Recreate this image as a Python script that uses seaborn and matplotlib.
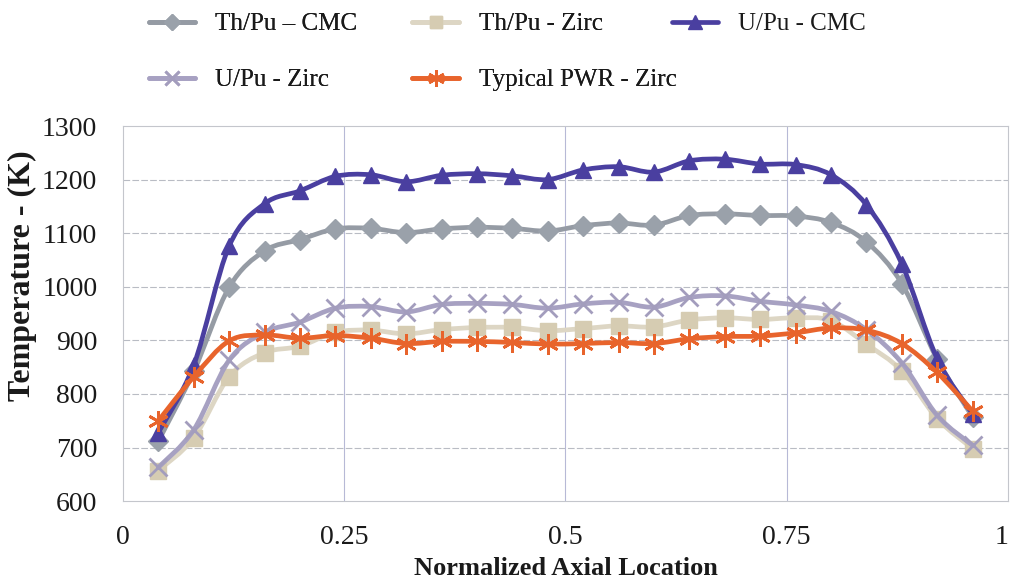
import numpy as np
import pandas as pd
import matplotlib
matplotlib.use("Agg")
import matplotlib.pyplot as plt
from matplotlib.path import Path
from matplotlib.patches import PathPatch
from matplotlib.lines import Line2D
from matplotlib.transforms import ScaledTranslation
import seaborn as sns

# Axial positions of the calculation nodes
axial = [0.04, 0.08, 0.12, 0.16, 0.20, 0.24, 0.28, 0.32, 0.36, 0.40, 0.44, 0.48,
         0.52, 0.56, 0.60, 0.64, 0.68, 0.72, 0.76, 0.80, 0.84, 0.88, 0.92, 0.96]

# Peak fuel temperatures (K)
th_pu_cmc = [712, 842, 999, 1067, 1088, 1108, 1109, 1101, 1108, 1111, 1109, 1104,
             1114, 1119, 1115, 1133, 1136, 1133, 1132, 1120, 1084, 1006, 865, 757]
th_pu_zirc = [657, 718, 832, 877, 889, 915, 919, 912, 920, 924, 924, 918,
              922, 927, 925, 938, 942, 939, 942, 937, 893, 843, 754, 698]
u_pu_cmc = [728, 854, 1076, 1155, 1179, 1206, 1209, 1196, 1208, 1211, 1207, 1200,
            1218, 1224, 1214, 1235, 1238, 1229, 1228, 1209, 1153, 1043, 866, 763]
u_pu_zirc = [663, 733, 863, 915, 934, 960, 963, 953, 967, 969, 967, 960,
             968, 971, 962, 980, 983, 973, 966, 954, 920, 858, 760, 704]
pwr_zirc = [750, 832, 899, 910, 904, 909, 904, 894, 898, 898, 896, 893,
            894, 896, 894, 903, 907, 908, 914, 923, 919, 894, 840, 768]

series_names = ["Th/Pu \u2013 CMC", "Th/Pu - Zirc", "U/Pu - CMC", "U/Pu - Zirc", "Typical PWR - Zirc"]
series_values = [th_pu_cmc, th_pu_zirc, u_pu_cmc, u_pu_zirc, pwr_zirc]

x_ticks = [0, 0.25, 0.5, 0.75, 1]
x_tick_labels = ["0", "0.25", "0.5", "0.75", "1"]
y_ticks = [600, 700, 800, 900, 1000, 1100, 1200, 1300]

styles = {
    "Th/Pu \u2013 CMC": dict(color="#959ba4", mfc="#9aa1aa", mec="#9aa1aa", marker="D", ms=10, mew=1.0),
    "Th/Pu - Zirc": dict(color="#ddd6c4", mfc="#d6ccb2", mec="#d6ccb2", marker="s", ms=11, mew=1.0),
    "U/Pu - CMC": dict(color="#4a3fa0", mfc="#4a3fa0", mec="#4a3fa0", marker="^", ms=12, mew=1.0),
    "U/Pu - Zirc": dict(color="#a7a1c2", mfc="none", mec="#a39dbd", marker="x", ms=13, mew=2.0),
    "Typical PWR - Zirc": dict(color="#e8642c", mfc="none", mec="#e8642c", marker=(6, 2, 0), ms=15, mew=2.0),
}

df = pd.DataFrame({
    "x": np.tile(axial, len(series_names)),
    "T": np.concatenate(series_values),
    "series": np.repeat(series_names, len(axial)),
})

sns.set_theme(style="white")
plt.rcParams["font.family"] = ["Liberation Serif", "DejaVu Serif"]

fig = plt.figure(figsize=(10.12, 5.82), dpi=100)
ax = fig.add_axes([0.1215, 0.139, 0.8745, 0.6445])


def smooth_path(xs, ys):
    """Cubic Bezier path through the points (Catmull-Rom style smoothing)."""
    pts = np.column_stack([xs, ys]).astype(float)
    verts = [pts[0]]
    codes = [Path.MOVETO]
    n = len(pts)
    for i in range(n - 1):
        p0 = pts[i - 1] if i > 0 else pts[i]
        p1 = pts[i]
        p2 = pts[i + 1]
        p3 = pts[i + 2] if i + 2 < n else pts[i + 1]
        c1 = p1 + (p2 - p0) / 6.0
        c2 = p2 - (p3 - p1) / 6.0
        verts += [c1, c2, p2]
        codes += [Path.CURVE4] * 3
    return Path(verts, codes)


handles = []
for k, name in enumerate(series_names):
    st = styles[name]
    sub = df[df["series"] == name]
    z = 3 + k
    ax.add_patch(PathPatch(smooth_path(sub["x"].values, sub["T"].values), fill=False,
                           edgecolor=st["color"], lw=3.4, capstyle="round",
                           joinstyle="round", zorder=z))
    sns.lineplot(data=sub, x="x", y="T", ax=ax, lw=0, marker=st["marker"],
                 markersize=st["ms"], markerfacecolor=st["mfc"],
                 markeredgecolor=st["mec"], markeredgewidth=st["mew"],
                 legend=False, zorder=z + 0.5)
    handles.append(Line2D([], [], color=st["color"], lw=3.4, marker=st["marker"],
                          markersize=st["ms"] * 0.8, markerfacecolor=st["mfc"],
                          markeredgecolor=st["mec"], markeredgewidth=st["mew"]))

ax.set_xlim(0, 1)
ax.set_ylim(600, 1300)
ax.set_xticks(x_ticks)
ax.set_xticklabels(x_tick_labels)
ax.set_yticks(y_ticks)
ax.tick_params(axis="both", length=0, labelsize=20, colors="#1a1a1a")
ax.tick_params(axis="x", pad=17)
ax.tick_params(axis="y", pad=18.5)
# keep the last x label inside the canvas
last = ax.get_xticklabels()[-1]
last.set_transform(last.get_transform() + ScaledTranslation(-6 / 100, 0, fig.dpi_scale_trans))

ax.grid(False)
for yv in y_ticks[1:-1]:
    ax.axhline(yv, color="#b9bcc4", lw=0.8, ls=(0, (6, 2)), zorder=1)
for xv in x_ticks[1:-1]:
    ax.axvline(xv, color="#b7b9d6", lw=0.8, zorder=1)
for sp in ax.spines.values():
    sp.set_color("#c4c6cc")
    sp.set_linewidth(0.8)

ax.set_xlabel("Normalized Axial Location", fontsize=19, fontweight="bold",
              color="#1a1a1a", labelpad=5)
ax.set_ylabel("Temperature - (K)", fontsize=23, fontweight="bold", color="#1a1a1a")
ax.yaxis.set_label_coords(-0.097, 0.60)

leg_kw = dict(loc="upper left", frameon=False, fontsize=18, handlelength=1.85,
              handletextpad=0.8, borderpad=0, borderaxespad=0, labelspacing=1.33,
              labelcolor="#1a1a1a")
# two columns of entries, then the remaining entry on the right
order = [0, 3, 1, 4]
leg1 = fig.legend([handles[i] for i in order], [series_names[i] for i in order],
                  ncol=2, columnspacing=2.2, bbox_to_anchor=(149 / 1012, 1 - 13 / 582),
                  **leg_kw)
fig.add_artist(leg1)
fig.legend([handles[2]], [series_names[2]], bbox_to_anchor=(672 / 1012, 1 - 13 / 582),
           **leg_kw)

fig.savefig("out.png", dpi=100)
